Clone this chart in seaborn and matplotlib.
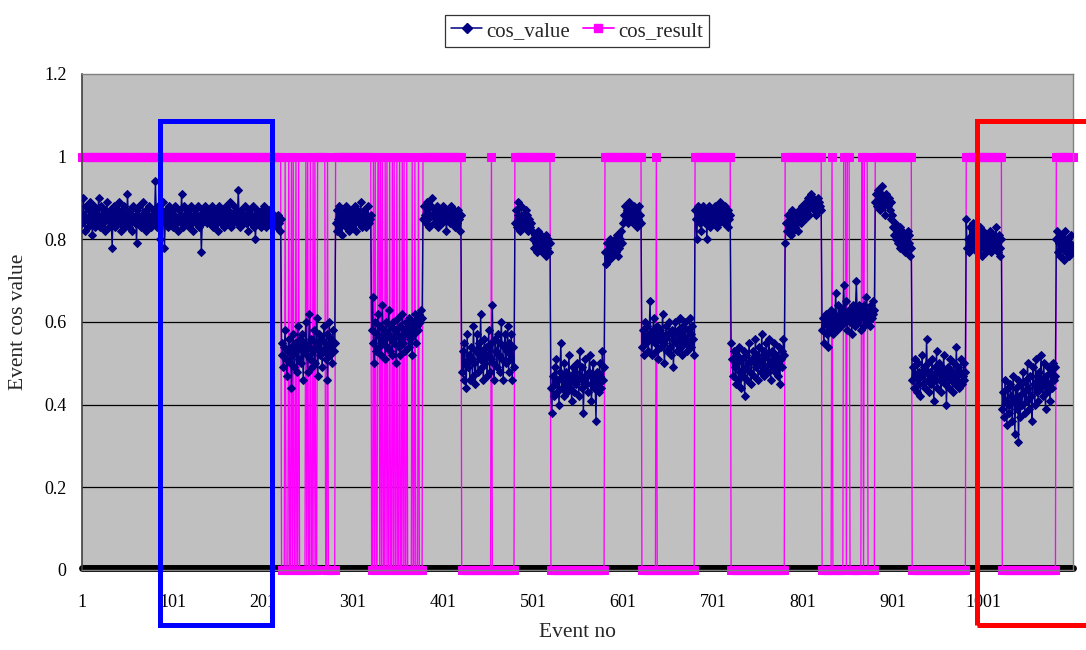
import matplotlib
matplotlib.use("Agg")
import matplotlib.pyplot as plt
import pandas as pd
import seaborn as sns
from matplotlib.lines import Line2D
from matplotlib.patches import Rectangle

# cos_value of each event, in hundredths, one string per block of events
value_blocks = [
    # events 1-221
    "84 90 86 82 88 85 83 87 89 84 86 81 85 88 83 87 84 86 90 85 "
    "83 88 86 84 87 82 85 89 86 83 85 87 84 78 86 88 83 85 87 84 "
    "86 89 84 82 87 85 88 83 86 84 91 85 83 87 86 82 88 85 84 86 "
    "79 87 84 88 85 83 86 89 84 85 87 82 86 84 88 85 83 86 87 84 "
    "85 94 86 83 88 84 80 87 85 89 86 78 84 87 85 83 88 86 84 85 "
    "87 83 86 88 84 85 82 87 86 84 91 85 83 88 86 84 85 87 83 86 "
    "84 88 85 82 86 87 84 85 88 83 86 85 77 84 87 85 88 86 84 86 "
    "85 87 84 86 88 83 85 87 86 84 82 86 88 85 84 87 86 83 85 88 "
    "86 84 87 85 89 83 86 84 88 85 87 84 86 92 85 83 87 86 84 85 "
    "88 84 86 85 82 87 86 84 85 88 83 86 80 85 87 84 86 85 83 87 "
    "84 86 88 85 83 86 84 87 85 86 84 83 85 86 84 85 83 86 84 82 85",
    # events 222-281
    "55 52 49 54 58 51 47 53 56 50 54 44 52 57 49 55 53 48 59 51 "
    "56 54 50 57 46 53 55 60 52 48 54 62 51 56 49 53 58 50 55 61 "
    "47 54 57 52 56 49 53 59 55 51 57 46 54 60 52 56 50 58 53 55",
    # events 282-321
    "84 87 82 85 88 83 86 81 84 87 85 83 88 84 86 82 85 87 83 86 "
    "84 88 85 82 87 86 84 85 89 83 86 84 87 85 83 86 88 84 85 86",
    # events 322-378
    "58 66 55 50 60 53 57 62 54 59 52 56 64 55 58 51 60 54 57 63 "
    "53 59 56 52 60 55 58 50 57 61 54 59 52 56 62 55 58 53 60 57 "
    "59 54 61 56 58 52 60 57 62 55 59 61 58 62 60 63 61",
    # events 379-421
    "85 88 86 84 89 87 85 83 86 88 90 86 84 87 85 88 86 83 87 85 "
    "86 84 88 85 87 86 82 85 87 86 84 88 85 86 87 83 85 86 84 87 85 82 86",
    # events 422-480
    "48 53 46 55 50 44 57 49 52 46 54 51 47 59 50 45 53 57 48 55 "
    "51 62 49 53 46 56 50 54 47 52 58 48 55 51 64 50 46 56 53 49 "
    "57 52 48 55 60 51 46 54 57 50 53 59 48 55 51 57 46 54 49",
    # events 481-520
    "84 87 83 86 89 85 82 88 84 86 85 83 87 84 86 82 85 83 84 82 "
    "80 78 81 79 77 80 82 78 79 81 77 80 78 79 76 81 78 80 77 79",
    # events 521-580
    "44 38 47 42 49 45 51 43 46 40 48 55 44 47 42 50 45 48 43 46 "
    "52 44 47 41 49 46 43 48 45 50 46 42 53 47 44 49 38 46 51 45 "
    "47 43 48 52 45 41 47 50 44 46 36 48 45 43 50 47 44 53 46 49",
    # events 581-621
    "77 74 79 76 78 75 80 77 79 76 78 80 77 81 76 79 78 80 82 79 "
    "84 86 88 85 87 84 86 89 85 87 86 84 88 85 87 86 83 85 88 86 84",
    # events 622-680
    "54 58 52 60 56 55 59 53 57 65 56 52 58 61 55 57 53 59 51 56 "
    "58 54 57 62 55 50 56 59 53 57 60 54 52 58 56 49 57 60 55 53 "
    "58 56 61 54 57 52 59 55 60 56 53 58 55 61 57 54 59 56 52",
    # events 681-720
    "87 85 80 88 86 84 87 82 85 88 86 84 87 80 85 88 86 83 87 85 "
    "84 86 88 85 83 87 86 84 89 85 87 86 84 88 85 86 83 87 85 86",
    # events 721-780
    "55 51 47 53 49 45 50 52 46 54 48 44 51 47 53 42 49 52 46 50 "
    "55 48 45 51 53 47 50 56 49 52 46 54 50 48 57 51 47 53 49 55 "
    "52 48 56 50 46 53 49 51 55 48 52 50 47 54 45 51 53 49 56 52",
    # events 781-821
    "79 84 82 86 83 85 81 84 87 82 85 83 86 84 82 87 85 86 84 88 "
    "86 88 85 89 87 90 88 86 89 91 88 90 87 89 86 88 90 87 89 88 87",
    # events 822-880
    "58 61 55 60 62 57 59 54 61 58 63 60 57 62 59 67 61 58 64 60 "
    "62 59 63 61 69 60 65 62 58 61 63 60 62 57 64 61 59 63 70 62 "
    "60 64 61 58 63 62 59 64 61 66 62 60 63 59 64 61 62 65 63",
    # events 881-921
    "89 91 88 92 90 87 91 89 93 88 90 86 91 89 88 90 87 89 85 86 "
    "83 81 84 80 82 79 81 83 78 80 82 79 81 77 80 78 82 79 81 76 78",
    # events 922-981
    "46 49 44 51 47 43 50 45 48 42 47 52 45 49 44 48 56 46 50 43 "
    "48 45 51 47 41 49 46 53 44 48 50 46 43 49 47 52 45 48 40 47 "
    "49 44 51 46 48 43 50 47 45 54 46 49 44 48 51 45 47 50 46 48",
    # events 982-1021
    "85 78 80 77 83 79 81 84 78 80 82 79 77 81 78 83 80 76 79 82 "
    "78 80 77 81 79 78 82 80 77 79 81 78 80 83 79 77 81 78 76 80",
    # events 1022-1081
    "39 43 37 46 41 35 44 40 38 45 42 36 47 41 33 44 39 46 31 42 "
    "37 45 40 48 43 38 46 41 50 44 39 47 42 36 49 45 40 51 43 47 "
    "41 48 44 52 46 42 50 45 39 47 43 49 45 41 48 44 50 46 47 49",
    # events 1082-1100
    "80 82 77 79 76 81 78 80 75 79 82 77 80 78 76 79 81 77 78",
]

# cos_result of each event as (value, number of consecutive events)
result_runs = [
    (1, 221),
    (0, 4), (1, 1), (0, 3), (1, 1), (0, 2), (1, 1), (0, 1), (1, 1), (0, 2),
    (1, 1), (0, 2), (1, 1), (0, 7), (1, 1), (0, 1), (1, 1), (0, 2), (1, 1),
    (0, 2), (1, 1), (0, 1), (1, 1), (0, 2), (1, 9), (0, 2), (1, 1), (0, 8),
    (1, 40),
    (0, 2), (1, 1), (0, 1), (1, 1), (0, 2), (1, 2), (0, 1), (1, 1), (0, 1),
    (1, 1), (0, 2), (1, 1), (0, 1), (1, 1), (0, 2), (1, 1), (0, 2), (1, 1),
    (0, 1), (1, 1), (0, 2), (1, 1), (0, 2), (1, 1), (0, 2), (1, 1), (0, 1),
    (1, 1), (0, 2), (1, 1), (0, 5), (1, 1), (0, 2), (1, 1), (0, 3), (1, 1),
    (0, 4),
    (1, 43), (0, 33), (1, 1), (0, 25), (1, 40), (0, 60), (1, 41), (0, 16),
    (1, 1), (0, 42), (1, 40), (0, 60), (1, 41),
    (0, 11), (1, 1), (0, 12), (1, 3), (0, 1), (1, 3), (0, 13), (1, 2),
    (0, 1), (1, 4), (0, 8),
    (1, 41), (0, 60), (1, 40), (0, 60), (1, 19),
]

x_tick_labels = ["1", "101", "201", "301", "401", "501", "601", "701",
                 "801", "901", "1001"]
y_ticks = [0, 0.2, 0.4, 0.6, 0.8, 1.0, 1.2]

cos_value = [int(v) / 100 for block in value_blocks for v in block.split()]
cos_result = [val for val, n in result_runs for _ in range(n)]

df_value = pd.DataFrame({"event": range(1, len(cos_value) + 1),
                         "value": cos_value})
df_result = pd.DataFrame({"event": range(1, len(cos_result) + 1),
                          "value": cos_result})

NAVY = "#000080"
MAGENTA = "#FF00FF"

sns.set_style("white")
plt.rcParams["font.family"] = ["Liberation Serif", "DejaVu Serif"]

W, H = 1086, 650
fig = plt.figure(figsize=(W / 100, H / 100), dpi=100)
ax = fig.add_axes([82 / W, 1 - 570 / H, (1073 - 82) / W, (570 - 74) / H])
ax.set_facecolor("#C0C0C0")

# gridlines and the heavy baseline at zero
for yv in y_ticks[1:-1]:
    ax.axhline(yv, color="black", lw=0.9, zorder=1)
ax.axhline(0.006, color="black", lw=5, zorder=1.5, clip_on=False)

sns.lineplot(data=df_result, x="event", y="value", ax=ax, estimator=None,
             color=MAGENTA, lw=0.95, marker="s", markersize=5.4,
             markeredgecolor=MAGENTA, zorder=2, clip_on=False)
sns.lineplot(data=df_value, x="event", y="value", ax=ax, estimator=None,
             color=NAVY, lw=1.0, marker="D", markersize=4.5,
             markeredgecolor=NAVY, zorder=3)

ax.set_xlim(0.5, len(cos_value) + 0.5)
ax.set_ylim(0, 1.2)
ax.set_xticks([int(t) for t in x_tick_labels])
ax.set_xticklabels(x_tick_labels)
ax.set_yticks(y_ticks)
ax.set_yticklabels(["0", "0.2", "0.4", "0.6", "0.8", "1", "1.2"])
ax.tick_params(axis="both", labelsize=13, colors="black", direction="in",
               length=4, width=0.8)
ax.tick_params(axis="x", pad=17)
ax.tick_params(axis="y", pad=11)

for side in ["top", "right", "bottom"]:
    ax.spines[side].set_color("#808080")
    ax.spines[side].set_linewidth(1.0)
ax.spines["left"].set_color("#404040")
ax.spines["left"].set_linewidth(1.2)

ax.set_xlabel("Event no", fontsize=15.5, labelpad=9)
ax.set_ylabel("Event cos value", fontsize=15.5, labelpad=12)

handles = [
    Line2D([], [], color=NAVY, lw=1.1, marker="D", markersize=5,
           markeredgecolor=NAVY),
    Line2D([], [], color=MAGENTA, lw=1.3, marker="s", markersize=5.5,
           markeredgecolor=MAGENTA),
]
leg = fig.legend(handles, ["cos_value", "cos_result"], loc="center",
                 bbox_to_anchor=(577 / W, 1 - 31 / H), ncol=2, fontsize=15,
                 frameon=True, fancybox=False, shadow=False,
                 handlelength=1.5, handletextpad=0.2, columnspacing=0.6,
                 borderpad=0.3, edgecolor="black")
leg.get_frame().set_linewidth(0.9)
if ax.get_legend() is not None:
    ax.get_legend().remove()

# highlight boxes around the two event windows
fig.patches.append(Rectangle((160 / W, 1 - 625 / H), (272 - 160) / W,
                             (625 - 121) / H, transform=fig.transFigure,
                             fill=False, edgecolor="#0000FF", lw=3.6,
                             zorder=10))
fig.patches.append(Rectangle((977 / W, 1 - 625 / H), (1100 - 977) / W,
                             (625 - 121) / H, transform=fig.transFigure,
                             fill=False, edgecolor="#FF0000", lw=3.6,
                             zorder=10))

fig.savefig("out.png", dpi=100)
